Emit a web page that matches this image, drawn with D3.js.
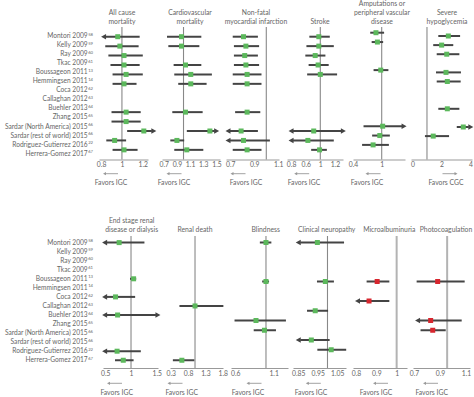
<!DOCTYPE html>
<html>
<head>
<meta charset="utf-8">
<script src="https://cdn.jsdelivr.net/npm/d3@7"></script>
<style>
  body { margin: 0; background: #fff; }
  text { font-family: Lato, "Liberation Sans", sans-serif; }
</style>
</head>
<body>
<div id="chart"></div>
<script>

// study rows (same order in every panel)
var studies = ["Montori 2009", "Kelly 2009", "Ray 2009", "Tkac 2009", "Boussageon 2011",
  "Hemmingsen 2011", "Coca 2012", "Callaghan 2012", "Buehler 2013", "Zhang 2015",
  "Sardar (North America) 2015", "Sardar (rest of world) 2015",
  "Rodriguez-Gutierrez 2016", "Herrera-Gomez 2017"];
var refNums = ["58", "59", "60", "61", "13", "14", "62", "63", "64", "65", "66", "66", "22", "67"];

// [row, estimate, lower, upper, arrow]
var allCause = [[0, 0.96, 0.80, 1.17, "L"], [1, 0.98, 0.84, 1.16], [2, 1.02, 0.87, 1.20],
  [3, 1.02, 0.89, 1.17], [4, 1.04, 0.91, 1.20], [5, 1.02, 0.91, 1.14], [8, 1.04, 0.90, 1.18],
  [9, 1.04, 0.90, 1.18], [10, 1.21, 1.05, 1.33, "R"], [11, 0.93, 0.85, 1.04], [12, 1.02, 0.91, 1.15]];
var cvMortality = [[0, 0.97, 0.75, 1.27], [1, 0.97, 0.77, 1.24], [3, 1.03, 0.85, 1.27],
  [4, 1.11, 0.86, 1.43], [5, 1.11, 0.92, 1.35], [8, 1.03, 0.83, 1.29], [10, 1.40, 1.05, 1.54, "R"],
  [11, 0.90, 0.80, 1.01], [12, 1.05, 0.86, 1.30]];
var nonFatalMI = [[0, 0.81, 0.72, 0.93], [1, 0.83, 0.73, 0.94], [2, 0.82, 0.73, 0.93],
  [3, 0.83, 0.73, 0.94], [4, 0.84, 0.72, 0.96], [5, 0.84, 0.72, 0.96], [8, 0.84, 0.74, 0.95],
  [10, 0.79, 0.66, 0.93, "L"], [11, 0.81, 0.66, 1.03, "L"], [12, 0.84, 0.72, 0.96]];
var stroke = [[0, 0.96, 0.70, 1.26], [1, 0.96, 0.62, 1.37], [2, 0.86, 0.59, 1.14],
  [3, 0.94, 0.68, 1.23], [4, 1.00, 0.64, 1.46], [10, 0.82, 0.13, 1.70, "LR"],
  [11, 0.66, 0.13, 1.37, "L"], [12, 0.98, 0.75, 1.18]];
var amputations = [[0, 0.88, 0.76, 1.05], [1, 0.91, 0.79, 1.03], [4, 0.98, 0.83, 1.14],
  [10, 1.02, 0.62, 1.52, "R"], [11, 0.96, 0.80, 1.17], [12, 0.82, 0.59, 1.15]];
var hypoglycemia = [[0, 2.47, 1.78, 3.28], [1, 2.01, 1.43, 2.81], [2, 2.36, 1.67, 3.23],
  [4, 2.31, 1.62, 3.34], [5, 2.40, 1.67, 3.32], [8, 2.40, 1.78, 3.23], [10, 3.50, 3.05, 4.19, "R"],
  [11, 1.43, 0.86, 2.52]];
var esrd = [[0, 0.77, 0.44, 1.26, "L"], [4, 1.05, 0.98, 1.10], [6, 0.70, 0.44, 1.08, "L"],
  [8, 0.74, 0.44, 1.57, "LR"], [12, 0.73, 0.44, 1.19, "L"], [13, 0.85, 0.69, 1.05]];
var renalDeath = [[7, 1.00, 0.55, 1.82], [13, 0.62, 0.36, 0.98]];
var blindness = [[0, 1.00, 0.92, 1.07], [4, 1.00, 0.95, 1.04], [8, 0.87, 0.59, 1.26], [9, 0.98, 0.84, 1.13]];
var neuropathy = [[0, 0.948, 0.837, 1.085, "L"], [4, 0.989, 0.946, 1.033], [7, 0.937, 0.895, 1.003],
  [10, 0.917, 0.837, 1.011, "L"], [11, 1.019, 0.948, 1.096]];
var microalbuminuria = [[4, 0.904, 0.852, 0.964], [6, 0.864, 0.795, 0.964, "L"]];
var photocoagulation = [[4, 0.882, 0.72, 1.09], [8, 0.828, 0.708, 1.067, "L"], [9, 0.844, 0.75, 0.944]];

// axis ticks
var ticksAllCause = [0.8, 1, 1.2];
var ticksCv = [0.7, 0.9, 1.1, 1.3, 1.5];
var ticksMI = [0.7, 0.9, 1.1];
var ticksStroke = [0.2, 0.6, 1, 1.4];
var labelsStroke = ["0.8", "0.6", "1", "1.2"];
var ticksAmp = [0.4, 1];
var ticksHypo = [0, 2, 4];
var ticksEsrd = [0.5, 1, 1.5];
var ticksRenal = [0.3, 0.8, 1.3, 1.8];
var ticksBlind = [0.6, 1.1];
var ticksNeuro = [0.85, 0.95, 1.05];
var ticksMicro = [0.8, 0.9, 1];
var ticksPhoto = [0.7, 0.9, 1.1];

var green = "#5cb85c", red = "#d7262e", dark = "#444", grey = "#666";

var topRow = {axisY: 159.5, refTop: 27, titleY: 23.8, favY: 184.5, favArrowY: 173.7, labelY0: 36, labelStep: 9.02};
var bottomRow = {axisY: 368, refTop: 236, titleY: 232, favY: 395, favArrowY: 383.3, labelY0: 242.3, labelStep: 9.05};

var panels = [
  {row: topRow, title: ["All cause", "mortality"], titleX: 122, data: allCause, domain: [0.78, 1.25], range: [99, 148], ticks: ticksAllCause, ref: 1, y0: 36.7, step: 9.43, fav: "Favors IGC", favX: 111, favArrowX: 110.5, dir: -1, color: green},
  {row: topRow, title: ["Cardiovascular", "mortality"], titleX: 190, data: cvMortality, domain: [0.674, 1.553], range: [162, 220], ticks: ticksCv, ref: 1, y0: 36.7, step: 9.43, fav: "Favors IGC", favX: 174, favArrowX: 174, dir: -1, color: green},
  {row: topRow, title: ["Non-fatal", "myocardial infarction"], titleX: 256, data: nonFatalMI, domain: [0.664, 1.106], range: [226, 279], ticks: ticksMI, ref: 1, y0: 36.7, step: 9.43, fav: "Favors IGC", favX: 246, favArrowX: 238, dir: -1, color: green},
  {row: topRow, title: ["Stroke"], titleX: 320, data: stroke, domain: [0.088, 1.622], range: [287, 343], ticks: ticksStroke, tickLabels: labelsStroke, ref: 1, y0: 36.7, step: 9.43, fav: "Favors IGC", favX: 304, favArrowX: 301.7, dir: -1, color: green},
  {row: topRow, title: ["Amputations or", "peripheral vascular", "disease"], titleX: 382, data: amputations, domain: [0.4, 1.487], range: [353, 405], ticks: ticksAmp, ref: 1, y0: 32.7, step: 9.35, fav: "Favors IGC", favX: 367, favArrowX: 373, dir: -1, color: green},
  {row: topRow, title: ["Severe", "hypoglycemia"], titleX: 447, data: hypoglycemia, domain: [-0.1, 4.1], range: [411, 472], ticks: ticksHypo, ref: 1, y0: 36, step: 9.1, fav: "Favors CGC", favX: 446, favArrowX: 450, dir: 1, color: green},
  {row: bottomRow, title: ["End stage renal", "disease or dialysis"], titleX: 131.7, data: esrd, domain: [0.457, 1.523], range: [103, 158], ticks: ticksEsrd, ref: 1, y0: 242.6, step: 9.05, fav: "Favors IGC", favX: 116.7, favArrowX: 114.5, dir: -1, color: green},
  {row: bottomRow, title: ["Renal death"], titleX: 195, data: renalDeath, domain: [0.277, 1.809], range: [170, 223], ticks: ticksRenal, ref: 1, y0: 242.6, step: 9.05, fav: "Favors IGC", favX: 181.7, favArrowX: 175, dir: -1, color: green},
  {row: bottomRow, title: ["Blindness"], titleX: 265.7, data: blindness, domain: [0.544, 1.287], range: [231, 288], ticks: ticksBlind, ref: 1, y0: 242.5, step: 9.75, fav: "Favors IGC", favX: 248, favArrowX: 254, dir: -1, color: green},
  {row: bottomRow, title: ["Clinical neuropathy"], titleX: 326.7, data: neuropathy, domain: [0.823, 1.095], range: [293, 346], ticks: ticksNeuro, ref: 1, y0: 242.5, step: 9.75, fav: "Favors IGC", favX: 311, favArrowX: 313.3, dir: -1, color: green},
  {row: bottomRow, title: ["Microalbuminuria"], titleX: 389.3, data: microalbuminuria, domain: [0.785, 1.051], range: [353, 407], ticks: ticksMicro, ref: 1, y0: 242.5, step: 9.75, fav: "Favors IGC", favX: 376, favArrowX: 380.5, dir: -1, color: red, thickRef: true},
  {row: bottomRow, title: ["Photocoagulation"], titleX: 446, data: photocoagulation, domain: [0.692, 1.131], range: [413, 470], ticks: ticksPhoto, ref: 0.955, y0: 242.5, step: 9.75, fav: "Favors IGC", favX: 431.7, favArrowX: 430.5, dir: -1, color: red, thickRef: true}
];

var W = 474, H = 397, fs = 6.8;
var svg = d3.select("#chart").append("svg").attr("width", W).attr("height", H);

// study names on the left, one column per row of panels
[topRow, bottomRow].forEach(function(r) {
  var ly = d3.scalePoint().domain(d3.range(studies.length))
    .range([r.labelY0, r.labelY0 + (studies.length - 1) * r.labelStep]);
  var t = svg.append("g").selectAll("text").data(studies).enter().append("text")
    .attr("x", 93).attr("y", function(d, i) { return ly(i); })
    .attr("dy", "0.35em").attr("text-anchor", "end")
    .attr("font-size", 6.6).attr("fill", grey);
  t.append("tspan").text(function(d) { return d; });
  t.append("tspan").attr("font-size", 4.2).attr("dy", -2.4).attr("dx", 0.5)
    .text(function(d, i) { return refNums[i]; });
});

var aLen = 5, aHalf = 2.8;

panels.forEach(function(p) {
  var x = d3.scaleLinear().domain(p.domain).range(p.range);
  var y = d3.scalePoint().domain(d3.range(studies.length)).range([p.y0, p.y0 + (studies.length - 1) * p.step]);
  var g = svg.append("g");

  g.selectAll(".title").data(p.title).enter().append("text")
    .attr("x", p.titleX)
    .attr("y", function(d, i) { return p.row.titleY - (p.title.length - 1 - i) * 9; })
    .attr("text-anchor", "middle").attr("font-size", fs).attr("fill", grey)
    .text(function(d) { return d; });

  var axis = g.append("g").attr("transform", "translate(0," + p.row.axisY + ")")
    .call(d3.axisBottom(x).tickValues(p.ticks).tickSize(0).tickSizeOuter(0).tickPadding(3)
      .tickFormat(function(d, i) { return p.tickLabels ? p.tickLabels[i] : String(d); }));
  axis.select(".domain").attr("stroke", "#999");
  axis.selectAll("text").attr("font-size", fs).attr("fill", grey);

  g.append("line")
    .attr("x1", x(p.ref)).attr("x2", x(p.ref))
    .attr("y1", p.row.refTop).attr("y2", p.row.axisY)
    .attr("stroke", p.thickRef ? "#b3b3b3" : "#888")
    .attr("stroke-width", p.thickRef ? 2 : 1.1);

  // confidence intervals
  g.selectAll(".ci").data(p.data).enter().append("line")
    .attr("x1", function(d) { return x(d[2]) + ((d[4] || "").indexOf("L") >= 0 ? aLen - 0.5 : 0); })
    .attr("x2", function(d) { return x(d[3]) - ((d[4] || "").indexOf("R") >= 0 ? aLen - 0.5 : 0); })
    .attr("y1", function(d) { return y(d[0]); })
    .attr("y2", function(d) { return y(d[0]); })
    .attr("stroke", dark).attr("stroke-width", 2);

  g.selectAll(".arrowL").data(p.data.filter(function(d) { return (d[4] || "").indexOf("L") >= 0; }))
    .enter().append("path")
    .attr("d", function(d) {
      var xt = x(d[2]), yy = y(d[0]);
      return "M" + xt + "," + yy + "L" + (xt + aLen) + "," + (yy - aHalf) + "L" + (xt + aLen) + "," + (yy + aHalf) + "Z";
    })
    .attr("fill", dark);
  g.selectAll(".arrowR").data(p.data.filter(function(d) { return (d[4] || "").indexOf("R") >= 0; }))
    .enter().append("path")
    .attr("d", function(d) {
      var xt = x(d[3]), yy = y(d[0]);
      return "M" + xt + "," + yy + "L" + (xt - aLen) + "," + (yy - aHalf) + "L" + (xt - aLen) + "," + (yy + aHalf) + "Z";
    })
    .attr("fill", dark);

  // point estimates
  g.selectAll(".pt").data(p.data).enter().append("rect")
    .attr("x", function(d) { return x(d[1]) - 2.5; })
    .attr("y", function(d) { return y(d[0]) - 2.5; })
    .attr("width", 5).attr("height", 5)
    .attr("fill", p.color);

  // favors label and arrow
  g.append("text").attr("x", p.favX).attr("y", p.row.favY)
    .attr("text-anchor", "middle").attr("font-size", fs).attr("fill", grey)
    .text(p.fav);
  var ax0 = p.favArrowX - 7.5 * p.dir, ax1 = p.favArrowX + 7.5 * p.dir, ay = p.row.favArrowY;
  g.append("line").attr("x1", ax0).attr("x2", ax1 - 2 * p.dir).attr("y1", ay).attr("y2", ay)
    .attr("stroke", "#999").attr("stroke-width", 0.9);
  g.append("path")
    .attr("d", "M" + ax1 + "," + ay + "L" + (ax1 - 3 * p.dir) + "," + (ay - 1.6) + "L" + (ax1 - 3 * p.dir) + "," + (ay + 1.6) + "Z")
    .attr("fill", "#999");
});

</script>
</body>
</html>
